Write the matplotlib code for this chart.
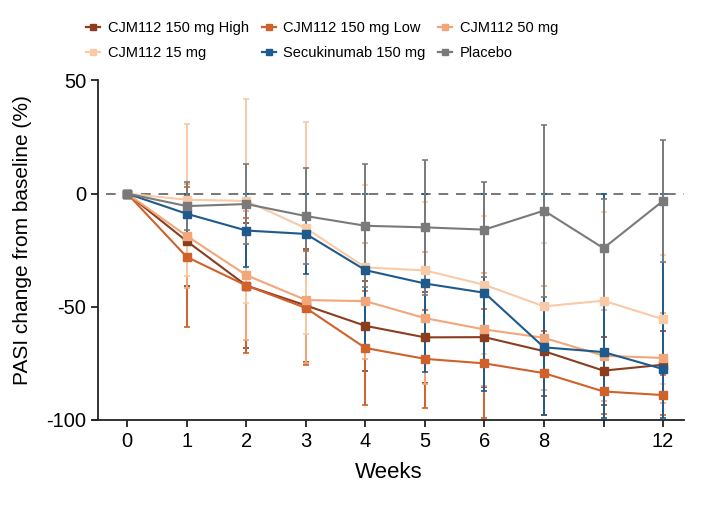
import numpy as np
import matplotlib
matplotlib.use('Agg')
import matplotlib.pyplot as plt
from matplotlib.lines import Line2D

plt.rcParams['font.family'] = ['Liberation Sans', 'DejaVu Sans']
plt.rcParams['axes.unicode_minus'] = False

# ---- data ----
weeks = [0, 1, 2, 3, 4, 5, 6, 8, 10, 12]
week_labels = ['0', '1', '2', '3', '4', '5', '6', '8', '', '12']

names = ['CJM112 150 mg High', 'CJM112 150 mg Low', 'CJM112 50 mg',
         'CJM112 15 mg', 'Secukinumab 150 mg', 'Placebo']
colors = ['#8B3D1E', '#D0612B', '#F2A679', '#F8CAA8', '#1E5A8C', '#7A7A7A']

high_mean = [0, -21.0, -40.6, -49.4, -58.4, -63.5, -63.4, -69.6, -78.2, -75.6]
high_err = [0, 20.0, 27.6, 25.0, 20.0, 20.0, 22.0, 20.0, 15.0, 15.0]

low_mean = [0, -28.0, -40.6, -50.5, -68.2, -73.0, -75.0, -79.3, -87.4, -89.0]
low_err = [0, 31.0, 29.8, 25.0, 25.3, 21.8, 24.0, 18.5, 10.0, 9.0]

mg50_mean = [0, -18.7, -36.0, -47.0, -47.5, -55.0, -60.0, -63.7, -71.6, -72.6]
mg50_err = [0, 23.0, 28.5, 28.0, 25.5, 29.0, 25.0, 23.0, 20.0, 20.0]

mg15_mean = [0, -2.7, -3.2, -15.3, -32.6, -33.9, -40.3, -49.8, -47.3, -55.5]
mg15_err = [0, 33.5, 45.0, 46.8, 36.6, 30.0, 30.5, 28.0, 39.4, 28.6]

secu_mean = [0, -8.9, -16.3, -17.8, -33.8, -39.7, -43.8, -67.9, -70.0, -77.5]
secu_err_lo = [0, 8.9, 16.3, 17.5, 34.0, 39.1, 43.2, 30.0, 29.0, 21.5]
secu_err_hi = [0, 8.9, 16.3, 17.8, 33.8, 39.7, 43.8, 67.9, 70.0, 77.5]

plac_mean = [0, -5.5, -4.6, -9.9, -14.2, -14.9, -15.9, -7.5, -24.1, -3.2]
plac_err = [0, 10.5, 17.5, 21.4, 27.2, 29.8, 21.0, 38.0, 21.8, 26.9]

means = [high_mean, low_mean, mg50_mean, mg15_mean, secu_mean, plac_mean]
errs = [[high_err, high_err], [low_err, low_err], [mg50_err, mg50_err],
        [mg15_err, mg15_err], [secu_err_lo, secu_err_hi], [plac_err, plac_err]]

x = np.arange(len(weeks))

fig = plt.figure(figsize=(7.09, 5.09), dpi=100)
ax = fig.add_axes([0.1316, 0.1749, 0.8338, 0.667])

ax.axhline(0, xmin=0.022, xmax=1.0, color='#777777', lw=1.4, ls=(0, (5, 4)), zorder=1)

for m, e, c in zip(means, errs, colors):
    ax.errorbar(x, m, yerr=e, fmt='none', ecolor=c, elinewidth=1.4,
                capsize=2.2, capthick=1.2, zorder=2)

handles = []
for m, c, n in zip(means, colors, names):
    ax.plot(x, m, '-s', color=c, lw=1.5, ms=6, zorder=3)
    handles.append(Line2D([], [], color=c, lw=1.6, marker='s', ms=4.5, label=n))

ax.set_xlim(-0.57, 9.36)
ax.set_ylim(-100, 50)
ax.spines['left'].set_position(('data', -0.49))
ax.spines['top'].set_visible(False)
ax.spines['right'].set_visible(False)
for s in ['left', 'bottom']:
    ax.spines[s].set_color('#222222')
    ax.spines[s].set_linewidth(1.3)

ax.set_xticks(x)
ax.set_xticklabels(week_labels)
ax.set_yticks([-100, -50, 0, 50])
ax.tick_params(axis='both', labelsize=14.5, length=5, width=1.3, color='#222222')
ax.set_xlabel('Weeks', fontsize=16, labelpad=8)
ax.set_ylabel('PASI change from baseline (%)', fontsize=15)
ax.yaxis.set_label_coords(-0.104, 0.53)

# legend filled row by row like the original
order = [0, 3, 1, 4, 2, 5]
fig.legend([handles[i] for i in order], [names[i] for i in order],
           loc='upper left', bbox_to_anchor=(0.122, 0.958), ncol=3,
           frameon=False, fontsize=10.5, handlelength=0.95, handletextpad=0.5,
           columnspacing=0.9, labelspacing=0.75, borderpad=0, borderaxespad=0)

fig.savefig('out.png', dpi=100)
